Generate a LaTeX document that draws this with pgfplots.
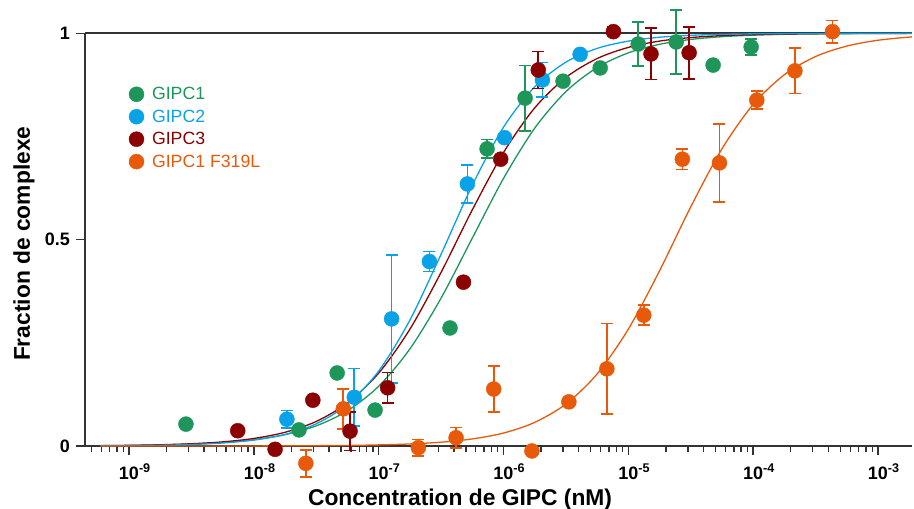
\documentclass[border=0pt]{standalone}
\usepackage{pgfplots}
\pgfplotsset{compat=1.18}
\usepackage{pgfplotstable}
\usepackage{fontspec}
\setmainfont{Liberation Sans}

\definecolor{gipcA}{RGB}{30,150,90}
\definecolor{gipcB}{RGB}{10,162,230}
\definecolor{gipcC}{RGB}{139,0,0}
\definecolor{gipcM}{RGB}{232,90,10}

% measured points: x (M), fraction, error
\pgfplotstableread{
x y e
2.86e-9 0.053 0
2.30e-8 0.039 0
4.65e-8 0.177 0
9.36e-8 0.087 0
3.73e-7 0.286 0
7.39e-7 0.720 0.023
1.49e-6 0.843 0.079
3.00e-6 0.884 0
5.95e-6 0.916 0
1.20e-5 0.974 0.053
2.42e-5 0.979 0.078
4.78e-5 0.923 0
9.64e-5 0.967 0.019
}\ptsA
\pgfplotstableread{
x y e
1.84e-8 0.065 0.021
6.38e-8 0.118 0.070
1.27e-7 0.308 0.155
2.55e-7 0.447 0.024
5.14e-7 0.635 0.046
1.02e-6 0.747 0
2.05e-6 0.887 0.042
4.11e-6 0.949 0
}\ptsB
\pgfplotstableread{
x y e
7.43e-9 0.037 0
1.48e-8 -0.008 0
2.97e-8 0.111 0
5.90e-8 0.036 0.047
1.18e-7 0.141 0.037
4.78e-7 0.397 0
9.50e-7 0.695 0
1.90e-6 0.911 0.045
7.60e-6 1.004 0.012
1.52e-5 0.950 0.062
3.07e-5 0.953 0.063
}\ptsC
\pgfplotstableread{
x y e
2.61e-8 -0.042 0.033
5.21e-8 0.090 0.048
2.08e-7 -0.004 0.020
4.17e-7 0.020 0.025
8.35e-7 0.138 0.056
1.69e-6 -0.012 0
3.34e-6 0.107 0
6.73e-6 0.187 0.110
1.33e-5 0.317 0.024
2.71e-5 0.695 0.025
5.37e-5 0.686 0.095
1.07e-4 0.838 0.022
2.16e-4 0.909 0.055
4.32e-4 1.004 0.027
}\ptsM

% fitted curves
\pgfplotstableread{
x A B C M
5.888e-10 0.0008 0.0005 0.0009 0.0000
1e-9 0.0014 0.0009 0.0016 0.0000
1.778e-9 0.0026 0.0019 0.0030 0.0000
3.162e-9 0.0047 0.0037 0.0055 0.0001
5.623e-9 0.0085 0.0073 0.0100 0.0001
1e-8 0.0153 0.0143 0.0183 0.0002
1.778e-8 0.0275 0.0279 0.0332 0.0004
3.162e-8 0.0488 0.0537 0.0595 0.0008
5.623e-8 0.0853 0.1008 0.1043 0.0014
1e-7 0.1447 0.1815 0.1765 0.0027
1.778e-7 0.2351 0.3049 0.2829 0.0050
3.162e-7 0.3583 0.4646 0.4207 0.0092
5.623e-7 0.5036 0.6318 0.5721 0.0171
1e-6 0.6482 0.7724 0.7111 0.0314
1.778e-6 0.7700 0.8704 0.8192 0.0572
3.162e-6 0.8587 0.9301 0.8929 0.1017
5.623e-6 0.9170 0.9634 0.9388 0.1745
1e-5 0.9526 0.9811 0.9658 0.2831
1.778e-5 0.9733 0.9904 0.9811 0.4244
3.162e-5 0.9851 0.9951 0.9897 0.5793
5.623e-5 0.9918 0.9975 0.9944 0.7200
1e-4 0.9954 0.9987 0.9969 0.8276
1.778e-4 0.9975 0.9993 0.9983 0.8996
3.162e-4 0.9986 0.9997 0.9991 0.9437
5.623e-4 0.9992 0.9998 0.9995 0.9690
1e-3 0.9996 1.0000 0.9997 0.9832
1.873e-3 0.9998 1.0000 0.9999 0.9914
}\fits

\begin{document}
\begin{tikzpicture}
\begin{axis}[
  at={(0pt,0pt)}, anchor=south west,
  scale only axis, width=827pt, height=412.7pt,
  xmode=log, log basis x=10,
  xmin=4.44e-10, xmax=1.873e-3, ymin=0, ymax=1,
  axis x line=bottom, axis y line=left,
  axis line style={-, line width=1.6pt, black!80},
  clip=false,
  tick align=outside, major tick length=9pt, minor tick length=5.5pt,
  every tick/.style={black!80, line width=1.4pt},
  xtick={1e-9,1e-8,1e-7,1e-6,1e-5,1e-4,1e-3},
  xticklabels={10\rlap{\textsuperscript{-9}},10\rlap{\textsuperscript{-8}},10\rlap{\textsuperscript{-7}},10\rlap{\textsuperscript{-6}},10\rlap{\textsuperscript{-5}},10\rlap{\textsuperscript{-4}},10\rlap{\textsuperscript{-3}}},
  minor xtick={5e-10,6e-10,7e-10,8e-10,9e-10,
    2e-9,3e-9,4e-9,5e-9,6e-9,7e-9,8e-9,9e-9,
    2e-8,3e-8,4e-8,5e-8,6e-8,7e-8,8e-8,9e-8,
    2e-7,3e-7,4e-7,5e-7,6e-7,7e-7,8e-7,9e-7,
    2e-6,3e-6,4e-6,5e-6,6e-6,7e-6,8e-6,9e-6,
    2e-5,3e-5,4e-5,5e-5,6e-5,7e-5,8e-5,9e-5,
    2e-4,3e-4,4e-4,5e-4,6e-4,7e-4,8e-4,9e-4},
  ytick={0,0.5,1}, yticklabels={0,0.5,1},
  xticklabel style={font=\bfseries\fontsize{18}{18}\selectfont, anchor=base, yshift=-24pt},
  yticklabel style={font=\bfseries\fontsize{18}{18}\selectfont, anchor=east, inner sep=0pt, xshift=-6pt},
  xlabel={Concentration de GIPC (nM)},
  ylabel={Fraction de complexe},
  xlabel style={font=\bfseries\fontsize{22.8}{24}\selectfont, at={(rel axis cs:0.4535,0)}, anchor=base, yshift=-59pt},
  ylabel style={font=\bfseries\fontsize{22.8}{24}\selectfont, at={(rel axis cs:0,0.49)}, anchor=base, yshift=55pt},
  legend style={at={(0.053,0.872)}, anchor=north west, draw=none, fill=none,
    font=\fontsize{17.7}{20}\selectfont, row sep=6.6pt, column sep=7pt, inner sep=0pt,
    nodes={inner sep=1pt}},
  legend cell align=left,
  legend image code/.code={\draw[#1, mark size=7.5pt] plot coordinates {(0pt,0pt)};},
]
\addplot[forget plot, black!80, line width=1.6pt] coordinates {(4.44e-10,1) (1.873e-3,1)};

\addplot[forget plot, gipcA, line width=1.3pt, smooth] table[x=x, y=A] {\fits};
\addplot[forget plot, gipcC, line width=1.3pt, smooth] table[x=x, y=C] {\fits};
\addplot[forget plot, gipcB, line width=1.3pt, smooth] table[x=x, y=B] {\fits};
\addplot[forget plot, gipcM, line width=1.3pt, smooth] table[x=x, y=M] {\fits};

% error bars first, marks on top
\addplot[forget plot, gipcA, draw=none, mark=none,
  error bars/y dir=both, error bars/y explicit,
  error bars/error bar style={gipcA, line width=1.7pt},
  error bars/error mark options={gipcA, mark size=6pt, line width=1.7pt, rotate=90}]
  table[x=x, y=y, y error=e] {\ptsA};
\addplot[forget plot, gipcB, draw=none, mark=none,
  error bars/y dir=both, error bars/y explicit,
  error bars/error bar style={gipcB, line width=1.7pt},
  error bars/error mark options={gipcB, mark size=6pt, line width=1.7pt, rotate=90}]
  table[x=x, y=y, y error=e] {\ptsB};
\addplot[forget plot, gipcC, draw=none, mark=none,
  error bars/y dir=both, error bars/y explicit,
  error bars/error bar style={gipcC, line width=1.7pt},
  error bars/error mark options={gipcC, mark size=6pt, line width=1.7pt, rotate=90}]
  table[x=x, y=y, y error=e] {\ptsC};
\addplot[forget plot, gipcM, draw=none, mark=none,
  error bars/y dir=both, error bars/y explicit,
  error bars/error bar style={gipcM, line width=1.7pt},
  error bars/error mark options={gipcM, mark size=6pt, line width=1.7pt, rotate=90}]
  table[x=x, y=y, y error=e] {\ptsM};

\addplot[only marks, mark=*, mark size=7.5pt, gipcA] table[x=x, y=y] {\ptsA};
\addlegendentry{\textcolor{gipcA}{GIPC1}}
\addplot[only marks, mark=*, mark size=7.5pt, gipcB] table[x=x, y=y] {\ptsB};
\addlegendentry{\textcolor{gipcB}{GIPC2}}
\addplot[only marks, mark=*, mark size=7.5pt, gipcC] table[x=x, y=y] {\ptsC};
\addlegendentry{\textcolor{gipcC}{GIPC3}}
\addplot[only marks, mark=*, mark size=7.5pt, gipcM] table[x=x, y=y] {\ptsM};
\addlegendentry{\textcolor{gipcM}{GIPC1 F319L}}
\end{axis}
\pgfresetboundingbox
\useasboundingbox (-85pt,-63pt) rectangle (829pt,446pt);
\end{tikzpicture}
\end{document}
